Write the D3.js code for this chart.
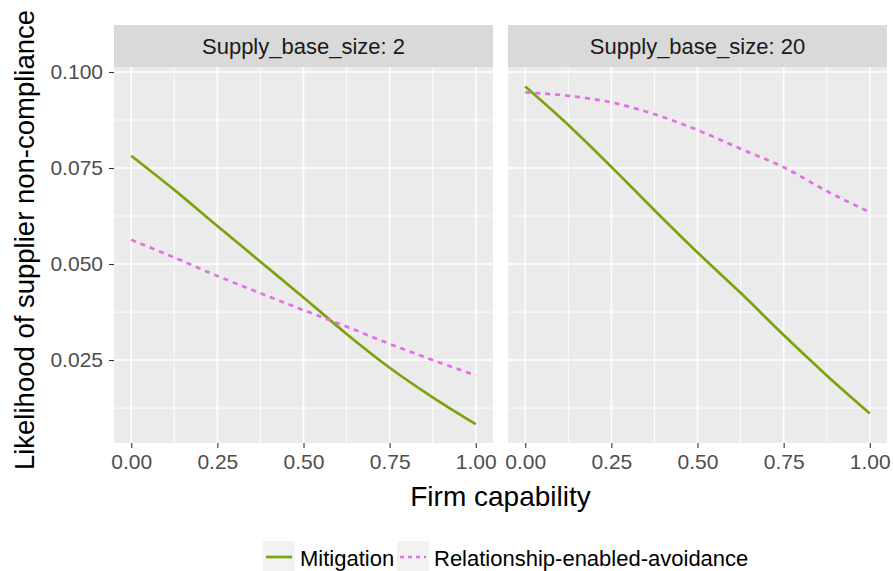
<!DOCTYPE html>
<html>
<head>
<meta charset="utf-8">
<script src="https://cdn.jsdelivr.net/npm/d3@7"></script>
<style>
  body { margin: 0; background: #fff; }
  svg { font-family: "Liberation Sans", Arial, sans-serif; display: block; }
</style>
</head>
<body>
<svg></svg>
<script>
// -----------------------------
// DATA
// -----------------------------
let capability = [0, 0.125, 0.25, 0.375, 0.5, 0.625, 0.75, 0.875, 1];

let facets = ["Supply_base_size: 2", "Supply_base_size: 20"];
let seriesNames = ["Mitigation", "Relationship-enabled-avoidance"];

// supply base size 2
let mitigation2 = [0.0782, 0.0693, 0.0599, 0.0506, 0.0413, 0.0318, 0.0230, 0.0153, 0.0083];
let avoidance2  = [0.0563, 0.0517, 0.0469, 0.0424, 0.0380, 0.0337, 0.0292, 0.0250, 0.0210];

// supply base size 20
let mitigation20 = [0.0962, 0.0862, 0.0753, 0.0640, 0.0530, 0.0425, 0.0315, 0.0210, 0.0111];
let avoidance20  = [0.0947, 0.0938, 0.0921, 0.0890, 0.0849, 0.0800, 0.0752, 0.0690, 0.0635];

let xTicks = [0, 0.25, 0.5, 0.75, 1];
let xMinor = [0.125, 0.375, 0.625, 0.875];
let yTicks = [0.025, 0.050, 0.075, 0.100];
let yMinor = [0.0125, 0.0375, 0.0625, 0.0875];

// -----------------------------
// SETUP
// -----------------------------
let width = 893,
    height = 571;

let panelTop = 67,
    panelBottom = 443,
    stripTop = 25,
    panelW = 379;

let panelLefts = [114, 508];

let colors = ["#7ca30e", "#e46ee6"];
let dashes = [null, "5,5"];

let svg = d3.select("svg")
            .attr("width", width)
            .attr("height", height);

svg.append("rect")
   .attr("width", width)
   .attr("height", height)
   .attr("fill", "#fff");

// -----------------------------
// SCALES
// -----------------------------
let yScale = d3.scaleLinear()
              .domain([0.0034, 0.1013])
              .range([panelBottom, panelTop]);

let panelData = [
  [mitigation2, avoidance2],
  [mitigation20, avoidance20]
];

panelData.forEach((series, p) => {
  let left = panelLefts[p];
  let xScale = d3.scaleLinear()
                .domain([-0.05, 1.05])
                .range([left, left + panelW]);

  let g = svg.append("g");

  // panel background
  g.append("rect")
   .attr("x", left)
   .attr("y", panelTop)
   .attr("width", panelW)
   .attr("height", panelBottom - panelTop)
   .attr("fill", "#ebebeb");

  // minor grid
  g.selectAll(".vminor")
   .data(xMinor)
   .enter()
   .append("line")
   .attr("x1", d => xScale(d))
   .attr("x2", d => xScale(d))
   .attr("y1", panelTop)
   .attr("y2", panelBottom)
   .attr("stroke", "#fff")
   .attr("stroke-width", 0.9);

  g.selectAll(".hminor")
   .data(yMinor)
   .enter()
   .append("line")
   .attr("x1", left)
   .attr("x2", left + panelW)
   .attr("y1", d => yScale(d))
   .attr("y2", d => yScale(d))
   .attr("stroke", "#fff")
   .attr("stroke-width", 0.9);

  // major grid
  g.selectAll(".vmajor")
   .data(xTicks)
   .enter()
   .append("line")
   .attr("x1", d => xScale(d))
   .attr("x2", d => xScale(d))
   .attr("y1", panelTop)
   .attr("y2", panelBottom)
   .attr("stroke", "#fff")
   .attr("stroke-width", 1.6);

  g.selectAll(".hmajor")
   .data(yTicks)
   .enter()
   .append("line")
   .attr("x1", left)
   .attr("x2", left + panelW)
   .attr("y1", d => yScale(d))
   .attr("y2", d => yScale(d))
   .attr("stroke", "#fff")
   .attr("stroke-width", 1.6);

  // strip
  g.append("rect")
   .attr("x", left)
   .attr("y", stripTop)
   .attr("width", panelW)
   .attr("height", panelTop - stripTop)
   .attr("fill", "#d9d9d9");

  g.append("text")
   .attr("x", left + panelW / 2)
   .attr("y", (stripTop + panelTop) / 2 + 8)
   .attr("text-anchor", "middle")
   .attr("font-size", 22)
   .attr("fill", "#1a1a1a")
   .text(facets[p]);

  // lines
  let line = d3.line()
               .x((d, i) => xScale(capability[i]))
               .y(d => yScale(d))
               .curve(d3.curveMonotoneX);

  series.forEach((vals, s) => {
    g.append("path")
     .datum(vals)
     .attr("d", line)
     .attr("fill", "none")
     .attr("stroke", colors[s])
     .attr("stroke-width", 2.7)
     .attr("stroke-dasharray", dashes[s]);
  });

  // x axis
  let xAxis = g.append("g")
     .attr("transform", `translate(0, ${panelBottom})`)
     .call(d3.axisBottom(xScale)
             .tickValues(xTicks)
             .tickSize(5)
             .tickPadding(6)
             .tickFormat(d3.format(".2f")));

  xAxis.select(".domain").remove();
  xAxis.selectAll("line").attr("stroke", "#333").attr("stroke-width", 1.1);
  xAxis.selectAll("text")
       .attr("font-size", 21)
       .attr("font-family", "Liberation Sans, Arial, sans-serif")
       .attr("fill", "#4d4d4d");
});

// -----------------------------
// Y AXIS (left panel only)
// -----------------------------
let yAxis = svg.append("g")
   .attr("transform", `translate(${panelLefts[0]}, 0)`)
   .call(d3.axisLeft(yScale)
           .tickValues(yTicks)
           .tickSize(5)
           .tickPadding(6)
           .tickFormat(d3.format(".3f")));

yAxis.select(".domain").remove();
yAxis.selectAll("line").attr("stroke", "#333").attr("stroke-width", 1.1);
yAxis.selectAll("text")
     .attr("font-size", 21)
     .attr("font-family", "Liberation Sans, Arial, sans-serif")
     .attr("fill", "#4d4d4d");

// -----------------------------
// LABELS
// -----------------------------
svg.append("text")
   .attr("x", (panelLefts[0] + panelLefts[1] + panelW) / 2)
   .attr("y", 506)
   .attr("text-anchor", "middle")
   .attr("font-size", 28)
   .attr("fill", "#000")
   .text("Firm capability");

svg.append("text")
   .attr("transform", `translate(34, 240) rotate(-90)`)
   .attr("text-anchor", "middle")
   .attr("font-size", 27.5)
   .attr("fill", "#000")
   .text("Likelihood of supplier non-compliance");

// -----------------------------
// LEGEND
// -----------------------------
let legendX = [263, 397];
let legend = svg.append("g");

seriesNames.forEach((name, s) => {
  let lx = legendX[s];
  legend.append("rect")
        .attr("x", lx)
        .attr("y", 541)
        .attr("width", 32)
        .attr("height", 32)
        .attr("fill", "#f2f2f2");

  legend.append("line")
        .attr("x1", lx + 3)
        .attr("x2", lx + 29)
        .attr("y1", 557)
        .attr("y2", 557)
        .attr("stroke", colors[s])
        .attr("stroke-width", 2.7)
        .attr("stroke-dasharray", dashes[s] ? "4,4" : null);

  legend.append("text")
        .attr("x", lx + 37)
        .attr("y", 566)
        .attr("font-size", 22)
        .attr("fill", "#000")
        .text(name);
});
</script>
</body>
</html>
